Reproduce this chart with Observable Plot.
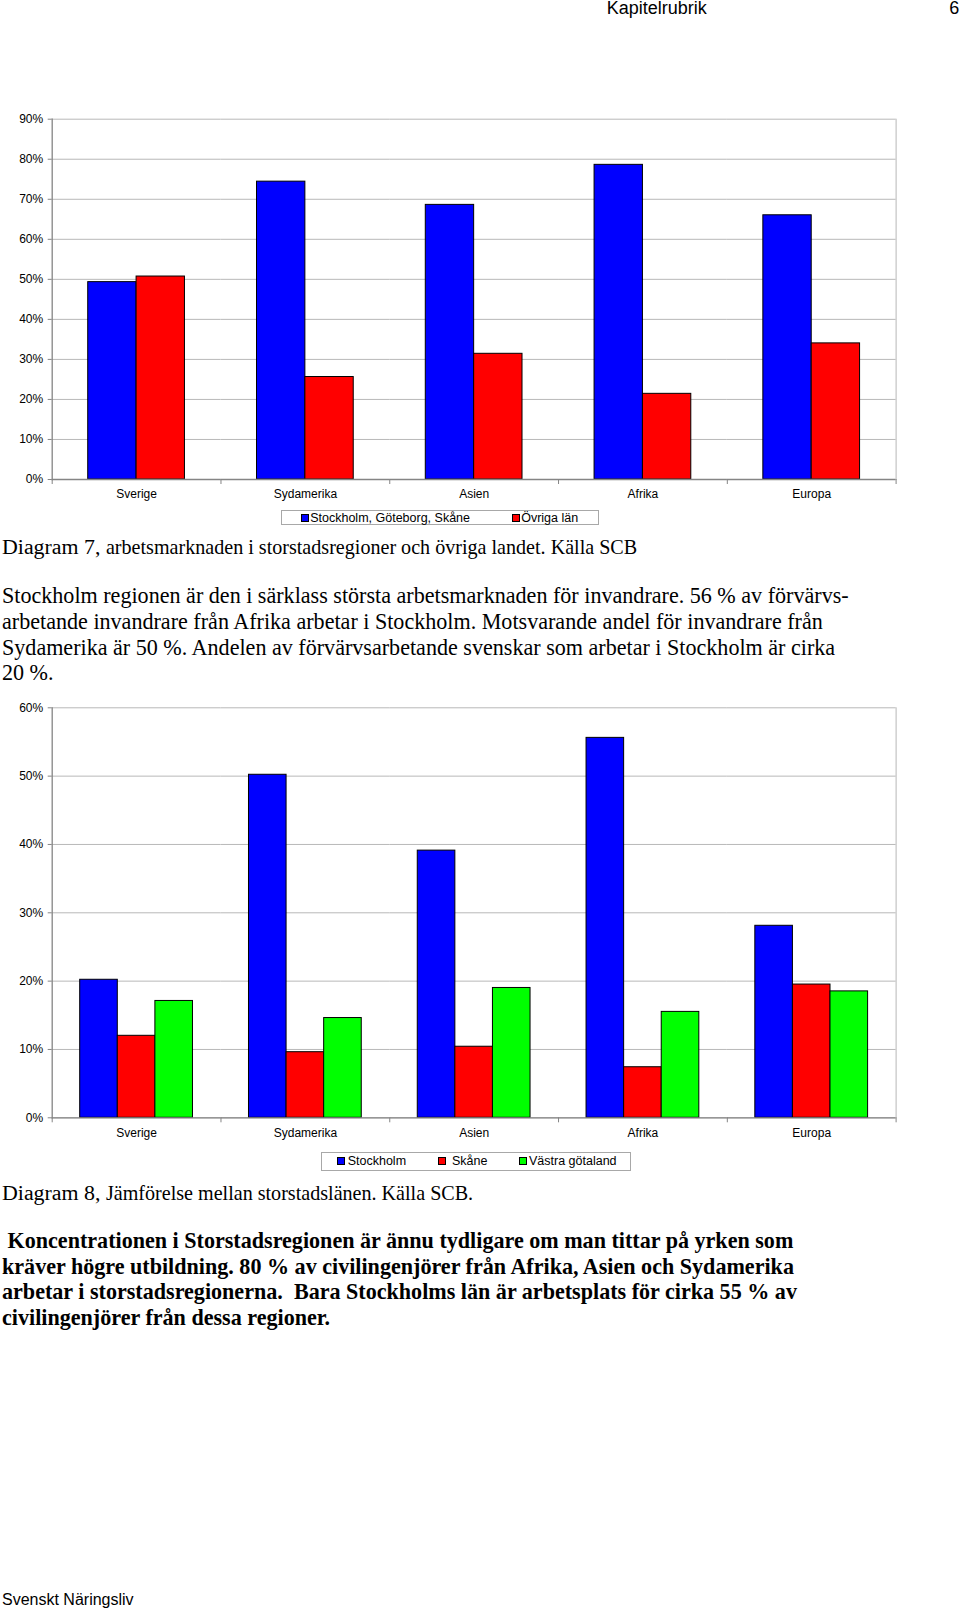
<!DOCTYPE html>
<html>
<head>
<meta charset="utf-8">
<script src="https://cdn.jsdelivr.net/npm/d3@7"></script>
<script src="https://cdn.jsdelivr.net/npm/@observablehq/plot@0.6"></script>
<style>
  html, body { margin: 0; padding: 0; background: #fff; }
  body { width: 960px; height: 1612px; position: relative; overflow: hidden; }
  .abs { position: absolute; white-space: nowrap; }
  .sans { font-family: "Liberation Sans", Arial, sans-serif; color: #000; }
  .serif { font-family: "Liberation Serif", "Times New Roman", serif; color: #000; }
  .para { font-size: 22.1px; line-height: 25.7px; }
  .cap { font-size: 21.9px; line-height: 25.7px; }
  .cap small { font-size: 20.1px; }
  .bold { font-weight: bold; font-size: 22.1px; line-height: 25.4px; }
  .legend { position: absolute; border: 1px solid #a8a8a8; box-sizing: border-box; background: #fff;
            font-family: "Liberation Sans", Arial, sans-serif; font-size: 12.5px; color: #000; }
  .legend .item { position: absolute; top: 0; bottom: 0; display: flex; align-items: center; white-space: nowrap; }
  .legend .sw { display: inline-block; width: 6px; height: 6px; border: 1px solid #000; }
</style>
</head>
<body>
<div class="abs sans" style="left:606.7px; top:-1px; font-size:18px; line-height:18px;">Kapitelrubrik</div>
<div class="abs sans" style="left:949.3px; top:-1px; font-size:18px; line-height:18px;">6</div>

<div id="chart1" class="abs" style="left:0; top:100px;"></div>
<div id="legend1"></div>

<div class="abs serif cap" style="left:2px; top:533.8px;">Diagram 7, <small>arbetsmarknaden i storstadsregioner och övriga landet. Källa SCB</small></div>

<div class="abs serif para" style="left:2px; top:583.3px;">Stockholm regionen är den i särklass största arbetsmarknaden för invandrare. 56 % av förvärvs-<br>arbetande invandrare från Afrika arbetar i Stockholm. Motsvarande andel för invandrare från<br>Sydamerika är 50 %. Andelen av förvärvsarbetande svenskar som arbetar i Stockholm är cirka<br>20 %.</div>

<div id="chart2" class="abs" style="left:0; top:680px;"></div>
<div id="legend2"></div>

<div class="abs serif cap" style="left:2px; top:1179.8px;">Diagram 8, <small>Jämförelse mellan storstadslänen. Källa SCB.</small></div>

<div class="abs serif bold" style="left:2px; top:1228.4px;">&nbsp;Koncentrationen i Storstadsregionen är ännu tydligare om man tittar på yrken som<br>kräver högre utbildning. 80 % av civilingenjörer från Afrika, Asien och Sydamerika<br>arbetar i storstadsregionerna.&nbsp; Bara Stockholms län är arbetsplats för cirka 55 % av<br>civilingenjörer från dessa regioner.</div>

<div class="abs sans" style="left:2px; top:1592px; font-size:16px; line-height:16px;">Svenskt Näringsliv</div>

<script>
// ---------- data ----------
const categories = ["Sverige", "Sydamerika", "Asien", "Afrika", "Europa"];

// Diagram 7
const series1 = ["Stockholm, Göteborg, Skåne", "Övriga län"];
const storstad = [0.493, 0.744, 0.686, 0.786, 0.660];
const ovrigaLan = [0.507, 0.256, 0.314, 0.214, 0.340];
const ticks1 = [0, 0.1, 0.2, 0.3, 0.4, 0.5, 0.6, 0.7, 0.8, 0.9];

// Diagram 8
const series2 = ["Stockholm", "Skåne", "Västra götaland"];
const stockholm = [0.202, 0.502, 0.391, 0.556, 0.281];
const skane = [0.120, 0.096, 0.104, 0.074, 0.195];
const vastraGotaland = [0.171, 0.146, 0.190, 0.155, 0.185];
const ticks2 = [0, 0.1, 0.2, 0.3, 0.4, 0.5, 0.6];

const colors1 = ["#0000ff", "#ff0000"];
const colors2 = ["#0000ff", "#ff0000", "#00ff00"];

function rowsFrom(series, arrays) {
  const rows = [];
  categories.forEach((cat, i) => {
    series.forEach((s, j) => rows.push({cat, series: s, value: arrays[j][i]}));
  });
  return rows;
}

const rows1 = rowsFrom(series1, [storstad, ovrigaLan]);
const rows2 = rowsFrom(series2, [stockholm, skane, vastraGotaland]);

function chart(o) {
  const plotH = o.height - o.marginTop - o.marginBottom;
  return Plot.plot({
    width: 960,
    height: o.height,
    marginLeft: 51.7,
    marginRight: 64.4,
    marginTop: o.marginTop,
    marginBottom: o.marginBottom,
    style: {fontFamily: "Liberation Sans, Arial, sans-serif", fontSize: "12px", color: "#000", background: "transparent", overflow: "visible"},
    fx: {domain: categories, padding: 0, round: false, label: null},
    x: {domain: o.series, paddingInner: 0, paddingOuter: 0.745, round: false, axis: null},
    y: {domain: [0, o.yMax], label: null},
    color: {domain: o.series, range: o.colors},
    marks: [
      Plot.gridY(o.ticks, {stroke: "#b8b8b8", strokeOpacity: 1, strokeWidth: 1}),
      Plot.barY(o.rows, {fx: "cat", x: "series", y: "value", fill: "series", stroke: "#000", strokeWidth: 1}),
      Plot.ruleY([0], {stroke: "#858585", strokeWidth: 1.3}),
      Plot.frame({anchor: "left", facetAnchor: "left", stroke: "#858585", strokeWidth: 1.3}),
      Plot.frame({anchor: "right", facetAnchor: "right", stroke: "#b8b8b8"}),
      Plot.frame({anchor: "left", stroke: "#858585", insetTop: plotH, insetBottom: -4}),
      Plot.frame({anchor: "right", facetAnchor: "right", stroke: "#858585", insetTop: plotH, insetBottom: -4}),
      Plot.axisY(o.ticks, {tickFormat: d3.format(".0%"), tickSize: 4, tickPadding: 5, stroke: "#858585", label: null}),
      Plot.axisFx({anchor: "bottom", tickSize: 0, tickPadding: o.labelPad, label: null})
    ]
  });
}

document.getElementById("chart1").append(chart({
  rows: rows1, series: series1, colors: colors1, ticks: ticks1, yMax: 0.9,
  height: 410, marginTop: 18.7, marginBottom: 31, labelPad: 10
}));
document.getElementById("chart2").append(chart({
  rows: rows2, series: series2, colors: colors2, ticks: ticks2, yMax: 0.6,
  height: 470, marginTop: 27.3, marginBottom: 32.7, labelPad: 11
}));

function legend(el, box, series, colors, offsets, gaps) {
  const div = document.createElement("div");
  div.className = "legend";
  Object.assign(div.style, {left: box[0] + "px", top: box[1] + "px", width: box[2] + "px", height: box[3] + "px"});
  series.forEach((s, i) => {
    const it = document.createElement("span");
    it.className = "item";
    it.style.left = offsets[i] + "px";
    const sw = document.createElement("span");
    sw.className = "sw";
    sw.style.background = colors[i];
    sw.style.marginRight = gaps[i] + "px";
    it.append(sw, document.createTextNode(s));
    div.append(it);
  });
  el.replaceWith(div);
}
legend(document.getElementById("legend1"), [280.7, 510.3, 318.6, 15], series1, colors1, [19.5, 230.5], [1, 1]);
legend(document.getElementById("legend2"), [320.7, 1151.7, 310.3, 19], series2, colors2, [15, 116.3, 197.3], [3, 6, 2]);
</script>
</body>
</html>
